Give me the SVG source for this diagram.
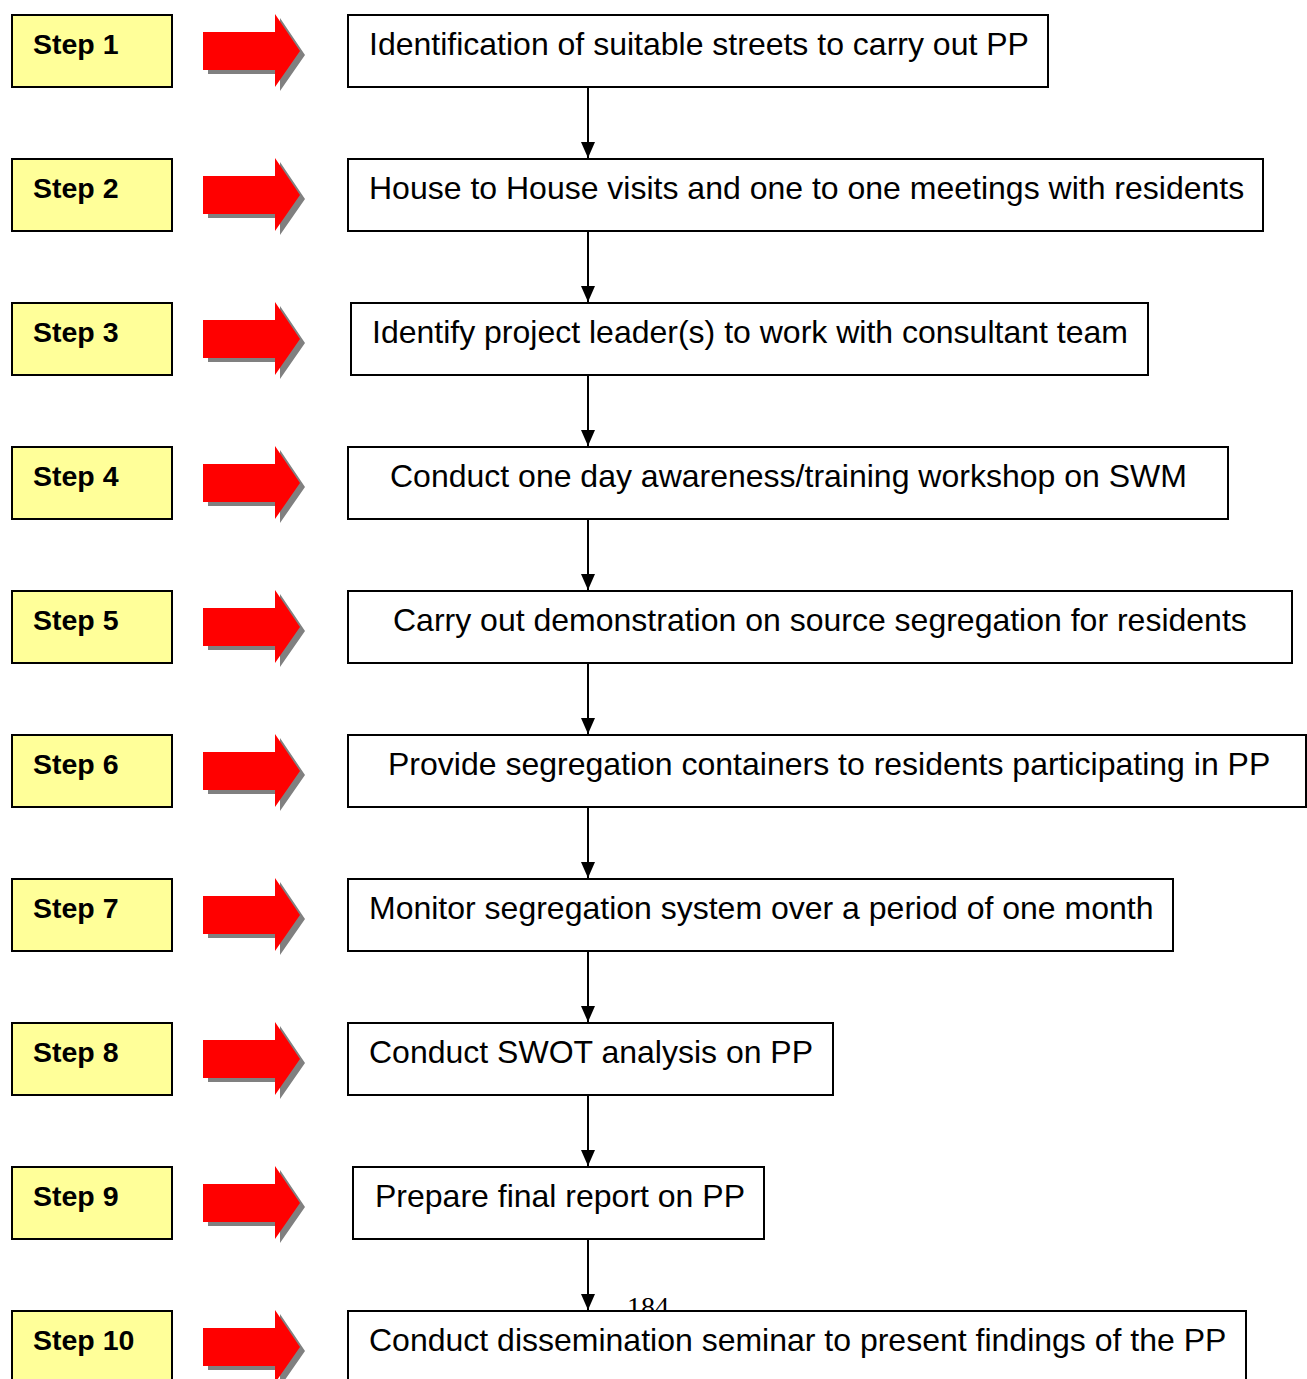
<svg xmlns="http://www.w3.org/2000/svg" xmlns:xlink="http://www.w3.org/1999/xlink" width="1307" height="1379" viewBox="0 0 1307 1379">
<style>
.step{fill:#FFFF99;stroke:#000;stroke-width:2}
.steptxt{font-family:"Liberation Sans",Arial,sans-serif;font-weight:bold;font-size:28.5px;fill:#000}
.box{fill:#fff;stroke:#000;stroke-width:2}
.boxtxt{font-family:"Liberation Sans",Arial,sans-serif;font-size:32px;fill:#000}
.conn{stroke:#000;stroke-width:2;fill:none}
</style>
<defs>
<polygon id="arr" points="203,32 275,32 275,14 300,51 275,87 275,70 203,70"/>
<g id="bigarrow">
<use xlink:href="#arr" href="#arr" transform="translate(5,4)" fill="#808080"/>
<use xlink:href="#arr" href="#arr" fill="#FF0000"/>
</g>
<marker id="ah" viewBox="0 0 16 14" refX="16" refY="7" markerWidth="16" markerHeight="14" markerUnits="userSpaceOnUse" orient="auto">
<path d="M0,0 L16,7 L0,14 Z" fill="#000"/>
</marker>
</defs>
<rect width="1307" height="1379" fill="#fff"/>
<text x="627" y="1316" font-family="'Liberation Serif','Times New Roman',serif" font-size="28" fill="#000">184</text>
<g id="connectors">
<line class="conn" x1="588" y1="87" x2="588" y2="158" marker-end="url(#ah)"/>
<line class="conn" x1="588" y1="231" x2="588" y2="302" marker-end="url(#ah)"/>
<line class="conn" x1="588" y1="375" x2="588" y2="446" marker-end="url(#ah)"/>
<line class="conn" x1="588" y1="519" x2="588" y2="590" marker-end="url(#ah)"/>
<line class="conn" x1="588" y1="663" x2="588" y2="734" marker-end="url(#ah)"/>
<line class="conn" x1="588" y1="807" x2="588" y2="878" marker-end="url(#ah)"/>
<line class="conn" x1="588" y1="951" x2="588" y2="1022" marker-end="url(#ah)"/>
<line class="conn" x1="588" y1="1095" x2="588" y2="1166" marker-end="url(#ah)"/>
<line class="conn" x1="588" y1="1239" x2="588" y2="1310" marker-end="url(#ah)"/>
</g>
<g id="step1"><rect class="step" x="12" y="15" width="160" height="72"/><text class="steptxt" x="33" y="54">Step 1</text><use xlink:href="#bigarrow" href="#bigarrow"/></g>
<g id="step2" transform="translate(0,144)"><rect class="step" x="12" y="15" width="160" height="72"/><text class="steptxt" x="33" y="54">Step 2</text><use xlink:href="#bigarrow" href="#bigarrow"/></g>
<g id="step3" transform="translate(0,288)"><rect class="step" x="12" y="15" width="160" height="72"/><text class="steptxt" x="33" y="54">Step 3</text><use xlink:href="#bigarrow" href="#bigarrow"/></g>
<g id="step4" transform="translate(0,432)"><rect class="step" x="12" y="15" width="160" height="72"/><text class="steptxt" x="33" y="54">Step 4</text><use xlink:href="#bigarrow" href="#bigarrow"/></g>
<g id="step5" transform="translate(0,576)"><rect class="step" x="12" y="15" width="160" height="72"/><text class="steptxt" x="33" y="54">Step 5</text><use xlink:href="#bigarrow" href="#bigarrow"/></g>
<g id="step6" transform="translate(0,720)"><rect class="step" x="12" y="15" width="160" height="72"/><text class="steptxt" x="33" y="54">Step 6</text><use xlink:href="#bigarrow" href="#bigarrow"/></g>
<g id="step7" transform="translate(0,864)"><rect class="step" x="12" y="15" width="160" height="72"/><text class="steptxt" x="33" y="54">Step 7</text><use xlink:href="#bigarrow" href="#bigarrow"/></g>
<g id="step8" transform="translate(0,1008)"><rect class="step" x="12" y="15" width="160" height="72"/><text class="steptxt" x="33" y="54">Step 8</text><use xlink:href="#bigarrow" href="#bigarrow"/></g>
<g id="step9" transform="translate(0,1152)"><rect class="step" x="12" y="15" width="160" height="72"/><text class="steptxt" x="33" y="54">Step 9</text><use xlink:href="#bigarrow" href="#bigarrow"/></g>
<g id="step10" transform="translate(0,1296)"><rect class="step" x="12" y="15" width="160" height="72"/><text class="steptxt" x="33" y="54">Step 10</text><use xlink:href="#bigarrow" href="#bigarrow"/></g>
<g id="task1"><rect class="box" x="348" y="15" width="700" height="72"/><text class="boxtxt" x="369" y="55">Identification of suitable streets to carry out PP</text></g>
<g id="task2"><rect class="box" x="348" y="159" width="915" height="72"/><text class="boxtxt" x="369" y="199">House to House visits and one to one meetings with residents</text></g>
<g id="task3"><rect class="box" x="351" y="303" width="797" height="72"/><text class="boxtxt" x="372" y="343">Identify project leader(s) to work with consultant team</text></g>
<g id="task4"><rect class="box" x="348" y="447" width="880" height="72"/><text class="boxtxt" x="390" y="487">Conduct one day awareness/training workshop on SWM</text></g>
<g id="task5"><rect class="box" x="348" y="591" width="944" height="72"/><text class="boxtxt" x="393" y="631">Carry out demonstration on source segregation for residents</text></g>
<g id="task6"><rect class="box" x="348" y="735" width="958" height="72"/><text class="boxtxt" x="388" y="775">Provide segregation containers to residents participating in PP</text></g>
<g id="task7"><rect class="box" x="348" y="879" width="825" height="72"/><text class="boxtxt" x="369" y="919">Monitor segregation system over a period of one month</text></g>
<g id="task8"><rect class="box" x="348" y="1023" width="485" height="72"/><text class="boxtxt" x="369" y="1063">Conduct SWOT analysis on PP</text></g>
<g id="task9"><rect class="box" x="353" y="1167" width="411" height="72"/><text class="boxtxt" x="375" y="1207">Prepare final report on PP</text></g>
<g id="task10"><rect class="box" x="348" y="1311" width="898" height="72"/><text class="boxtxt" x="369" y="1351">Conduct dissemination seminar to present findings of the PP</text></g>
</svg>
